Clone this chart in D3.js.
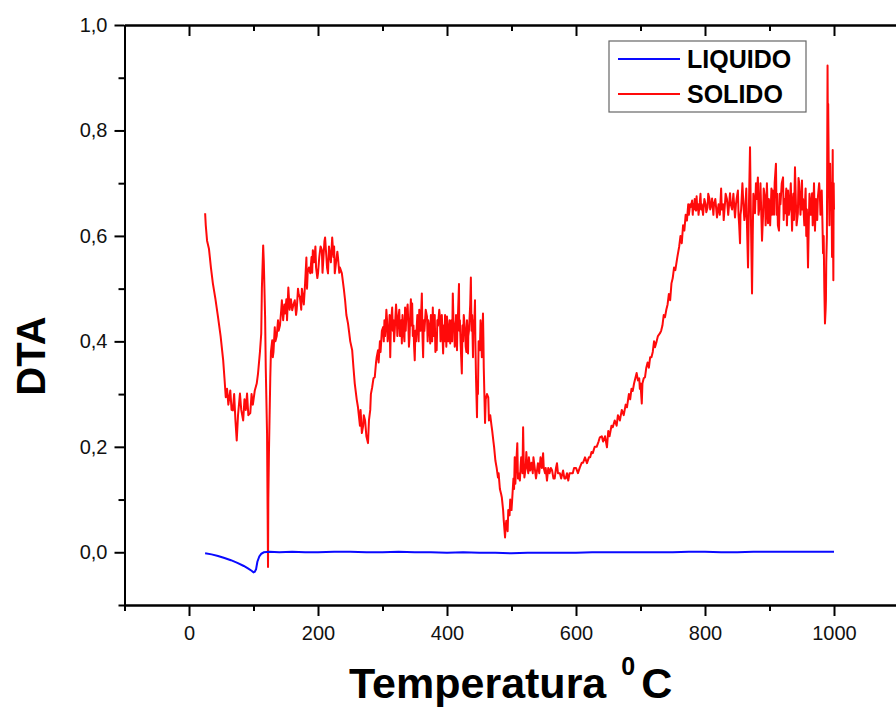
<!DOCTYPE html>
<html>
<head>
<meta charset="utf-8">
<script src="https://cdn.jsdelivr.net/npm/d3@7/dist/d3.min.js"></script>
<style>
  html, body { margin: 0; padding: 0; background: #fff; }
  svg { display: block; }
  text { font-family: Arial, "Liberation Sans", sans-serif; }
</style>
</head>
<body>
<svg id="chart" width="896" height="709"></svg>
<script>
// DTA of the solid sample: [temperature °C, DTA]
const solido = [
  [25,0.643],[26,0.62],[28,0.591],[31,0.575],[34,0.54],[37,0.510],[41,0.48],[45,0.446],[49,0.41],[53,0.364],[55,0.33],[57,0.294],[59,0.31],[61,0.28],[64,0.307],[66,0.27],[68,0.269],[70,0.30],[72,0.25],[74,0.212],[76,0.26],[79,0.301],[81,0.27],[84,0.250],[86,0.29],[88,0.27],[90,0.301],[92,0.26],[95,0.264],[97,0.30],[99,0.28],[102,0.307],[105,0.32],[107,0.339],[110,0.38],[112,0.415],[113,0.50],[115,0.582],[116,0.55],[118,0.446],[119,0.35],[121,0.226],[122.5,-0.028],[123,0.10],[124,0.193],
  [126,0.33],[127,0.38],[129,0.402],[130,0.37],[131,0.38],[133,0.427],[134,0.40],[136,0.41],[138,0.440],[139,0.42],[141,0.43],[143,0.46],[144,0.478],[146,0.44],[148,0.47],[149,0.453],[151,0.48],[152,0.44],[154,0.502],[156,0.46],[158,0.48],[160,0.459],[162,0.47],[164,0.478],[166,0.45],[167,0.46],[169,0.50],[170,0.49],[172,0.483],[174,0.46],[175,0.50],[178,0.47],[180,0.510],[182,0.559],[183,0.50],[184,0.53],[186,0.54],[188,0.529],[190,0.56],[191,0.53],[192,0.573],[194,0.55],[196,0.58],[197,0.54],[199,0.52],[200,0.529],[202,0.56],[204,0.58],[206,0.573],[207,0.53],[208,0.55],[210,0.59],[211,0.597],[213,0.56],[214,0.54],[215.5,0.529],[217,0.58],[218,0.57],[220,0.55],[222,0.597],[224,0.56],[225,0.58],[226,0.529],[228,0.55],[230,0.57],[231,0.559],[233,0.53],[234,0.54],[237,0.529],[240,0.50],[242,0.478],[244,0.45],[246.5,0.434],[248,0.42],[250,0.40],[253,0.383],[255,0.35],[257,0.320],[260,0.29],[262,0.275],[265,0.24],[266,0.27],[268,0.226],[270,0.24],[271,0.26],[273,0.250],[275,0.22],[277.5,0.207],[279,0.25],[281,0.27],[282,0.30],[284,0.313],[286,0.33],[288,0.332],[290,0.36],[291,0.37],[293,0.383],[294,0.36],[296,0.40],[297,0.38],
  [299,0.42],[301,0.427],[302,0.40],[303,0.44],[304,0.41],[305,0.43],[306,0.46],[307,0.441],[308,0.40],[310,0.42],[311,0.45],[312,0.370],[313,0.43],[315,0.464],[316,0.42],[317,0.44],[318,0.40],[319,0.421],[321,0.47],[322,0.45],[323,0.41],[324,0.434],[326,0.46],[327,0.41],[329,0.44],[330,0.396],[331,0.45],[332,0.43],[334,0.40],[335,0.464],[336,0.42],[337,0.45],[339,0.47],[340,0.434],[341,0.39],[342,0.41],[343,0.45],[344,0.48],[345,0.43],[346,0.472],[347,0.41],[348,0.43],[349,0.39],[350,0.364],[351,0.42],[352,0.40],[354,0.45],[355,0.434],[356,0.40],[357,0.46],[359,0.42],[361,0.491],[362,0.41],[363,0.370],[364,0.44],[365,0.42],[367,0.46],[369,0.447],[370,0.40],[371,0.44],[373,0.42],[374,0.396],[375,0.45],[376,0.43],[377,0.40],[378,0.464],[379,0.41],[380,0.42],[381,0.45],[382,0.38],[383,0.41],[384,0.383],[385,0.44],[386,0.43],[388,0.46],[389,0.447],[390,0.40],[391,0.42],[392,0.45],[394,0.377],[395,0.43],[396,0.40],[397,0.45],[398,0.43],[399,0.39],[400,0.447],[401,0.42],[402,0.40],[404,0.44],[405,0.396],[406,0.43],[407,0.44],[408,0.40],[409,0.491],[410,0.44],[411,0.43],[412,0.39],[413,0.40],[414,0.45],[415.5,0.383],[416,0.42],[417,0.45],[418.6,0.509],[419,0.42],[420,0.44],[421,0.40],[423,0.339],[424,0.43],[425,0.40],[426,0.45],[428,0.421],[429,0.39],[430,0.38],[431,0.44],[432.6,0.377],[433,0.41],[434,0.42],[436,0.47],[437,0.521],[438,0.42],[439,0.45],[440.3,0.370],[441,0.44],[442,0.42],[443.4,0.478],[444,0.40],[445,0.33],[446.5,0.256],[447,0.31],[448,0.30],[449,0.40],[451,0.383],[452,0.44],[453,0.42],[454,0.37],[455.8,0.453],[456.5,0.40],[457,0.35],
  [459,0.245],[460,0.29],[462,0.30],[464,0.294],[465,0.25],[467,0.26],[469,0.24],[470,0.231],[472,0.21],[473,0.20],[475,0.174],[477,0.16],[479,0.142],[480,0.15],[482,0.12],[484,0.11],[485,0.104],[487,0.08],[488,0.06],[490,0.028],[491,0.05],[492,0.06],[494,0.04],[495,0.080],[497,0.07],[498,0.10],[500,0.08],[501,0.099],[503,0.14],[504,0.12],[505,0.180],[506,0.13],[507,0.16],[509,0.207],[510,0.14],[511,0.15],[513,0.136],[514,0.16],[515,0.18],[517,0.15],[518,0.237],[519,0.17],[520,0.142],[522,0.16],[523,0.19],[524,0.169],[526,0.15],[527,0.18],[529,0.155],[531,0.17],[533,0.150],[534,0.18],[536,0.16],[538,0.14],[541,0.169],[543,0.15],[545,0.18],[547,0.16],[549,0.188],[550,0.16],[552,0.15],[553,0.16],[555,0.136],[557,0.16],[559,0.15],[561,0.16],[563,0.155],[565,0.14],[567,0.14],[569,0.16],[570.5,0.169],[572,0.15],[575,0.15],[577,0.14],[580,0.155],[582,0.14],[584,0.14],[586,0.15],[588,0.136],[590,0.15],[592,0.15],[595,0.150],[597,0.16],[600,0.16],[603,0.15],[606,0.161],[609,0.17],[611,0.17],[614,0.18],[617,0.169],[620,0.18],[622,0.18],[624,0.19],[626,0.188],[629,0.20],[632,0.20],[635,0.21],[637,0.218],[640,0.22],[642,0.21],[645,0.22],[648,0.199],[650,0.23],[652,0.22],[655,0.24],[657,0.237],[660,0.25],[663,0.24],[665,0.26],[668,0.250],[671,0.27],[674,0.26],[677,0.28],[679,0.275],[682,0.30],[684,0.29],[686,0.31],[688,0.306],[690,0.32],[692,0.33],[694,0.34],[696,0.326],[698,0.33],[699,0.31],[700,0.32],[702,0.282],[703,0.32],[705,0.33],[707,0.332],[709,0.35],[711,0.36],[713,0.35],[715,0.370],[717,0.37],[719,0.38],[721,0.40],[722.5,0.389],[725,0.40],[727,0.41],[730,0.415],[732,0.42],[734,0.43],[736,0.45],[738,0.446],[740,0.46],[742,0.47],[744,0.49],[746,0.478],[748,0.51],[750,0.52],[752,0.54],[754,0.535],[757,0.559],[760,0.58],[762,0.60],[764,0.586],[766,0.62],[768,0.61],[770,0.64],[772,0.629],[774,0.66],[775,0.64],[777,0.66],[778,0.655],
  [780,0.667],[781,0.64],[782,0.66],[783,0.65],[784,0.67],[786,0.648],[787,0.675],[788,0.65],[789,0.66],[790,0.64],[792,0.664],[793,0.68],[794,0.65],[795,0.66],[797,0.64],[798,0.654],[799,0.67],[801,0.66],[802,0.645],[804,0.654],[805,0.68],[807,0.67],[808,0.65],[810,0.66],[811,0.671],[813,0.64],[814,0.66],[816,0.67],[818.6,0.635],[820,0.65],[821,0.66],[823,0.64],[825,0.690],[826,0.65],[828,0.66],[829,0.63],[831,0.662],[832,0.68],[834,0.67],[836,0.64],[838.8,0.681],[840,0.66],[842,0.65],[844,0.68],[846.5,0.635],[848,0.66],[849,0.67],[851,0.686],[852,0.64],[853,0.62],[854.3,0.586],[855,0.64],[856,0.65],[858,0.70],[859,0.673],[861,0.63],[862,0.64],[864,0.69],[865,0.624],[866.7,0.540],[868,0.65],[869.8,0.768],[871,0.65],[872.9,0.491],[874,0.60],[875,0.68],[877.5,0.643],[879,0.70],[880,0.67],[882,0.711],[883,0.64],[885,0.66],[886,0.70],[888.4,0.591],[890,0.64],[891,0.69],[893,0.673],[894,0.62],[895,0.65],[896,0.70],[897.7,0.624],[899,0.67],[900,0.66],[901,0.62],[903,0.69],[904,0.64],[905,0.686],[907,0.64],[908,0.70],[910,0.737],[911,0.64],[912,0.68],[913,0.62],[914.7,0.610],[916,0.68],[917,0.66],[919,0.70],[921,0.711],[922,0.63],[923,0.67],[924,0.643],[926,0.69],[927,0.62],[928.7,0.686],[930,0.64],[931,0.65],[933,0.70],[935,0.610],[936,0.66],[937,0.68],[938,0.63],[939.5,0.730],[941,0.66],[942,0.62],[944,0.643],[945,0.71],[946,0.70],[948,0.64],[950.4,0.705],[951,0.65],[952,0.67],[954,0.62],[955,0.662],[956,0.69],[957,0.60],[958,0.65],[959.7,0.540],[961,0.63],[962,0.68],[964,0.64],[966,0.681],[967,0.62],[968,0.65],[969,0.70],[970.5,0.610],[972,0.67],[973,0.66],[974,0.63],[975,0.673],[977,0.70],[978,0.68],[979,0.64],[981,0.686],[982,0.63],[983,0.567],[984,0.60],[985,0.50],[986,0.434],[987,0.46],[987.5,0.48],[988,0.55],[989,0.60],[990,0.923],[990.5,0.80],[991,0.85],[992,0.70],[993,0.62],[994,0.737],[995,0.65],[996,0.70],[997,0.560],[998,0.763],[998.5,0.60],[999,0.516],[999.5,0.70],[1000,0.65]
];

// DTA of the liquid sample: [temperature °C, DTA]
const liquido = [
  [25,-0.002],[35,-0.004],[45,-0.007],[55,-0.011],[65,-0.015],[75,-0.020],[85,-0.026],[92,-0.031],[97,-0.035],[100,-0.038],[102,-0.037],[104,-0.032],[106,-0.018],[109,-0.008],[112,-0.003],[116,0.000],[125,0.001],[140,0.000],[160,0.001],[180,0.000],[200,0.000],[225,0.001],[250,0.001],[275,0.000],[300,0.000],[325,0.001],[350,0.000],[375,0.000],[400,-0.001],[425,0.000],[450,-0.001],[475,-0.001],[500,-0.002],[525,-0.001],[550,-0.001],[575,-0.001],[600,-0.001],[625,0.000],[650,0.000],[675,0.000],[700,0.000],[725,0.000],[750,0.000],[775,0.001],[800,0.001],[825,0.000],[850,0.000],[875,0.001],[900,0.001],[925,0.001],[950,0.001],[975,0.001],[1000,0.001]
];

const seriesNames = ["LIQUIDO", "SOLIDO"];
const seriesColors = ["#0a0aff", "#ff0a0a"];

const xMajor = [0, 200, 400, 600, 800, 1000];
const xMinor = [-100, 100, 300, 500, 700, 900, 1100];
const yMajor = [0.0, 0.2, 0.4, 0.6, 0.8, 1.0];
const yMinor = [-0.1, 0.1, 0.3, 0.5, 0.7, 0.9];

const svg = d3.select("#chart");
const mLeft = 124.5, mRight = 898.5, mTop = 25, mBottom = 605;

const x = d3.scaleLinear().domain([-100, 1100]).range([mLeft, mRight]);
const y = d3.scaleLinear().domain([-0.1, 1.0]).range([mBottom, mTop]);

const fmtY = d => d3.format(".1f")(d).replace(".", ",");
const fmtX = d3.format("d");

const plot = svg.append("g");
const line = d3.line().x(d => x(d[0])).y(d => y(d[1]));

plot.append("path").datum(solido)
  .attr("d", line).attr("fill", "none")
  .attr("stroke", seriesColors[1]).attr("stroke-width", 2)
  .attr("stroke-linejoin", "round");

plot.append("path").datum(liquido)
  .attr("d", line).attr("fill", "none")
  .attr("stroke", seriesColors[0]).attr("stroke-width", 2);

// frame: labelled bottom and left axes, tick-only top axis, plain right edge
function styleAxis(g) {
  g.selectAll(".domain").attr("stroke", "#000").attr("stroke-width", 2);
  g.selectAll(".tick line").attr("stroke", "#000").attr("stroke-width", 2);
  g.selectAll(".tick text").attr("font-size", 20).attr("fill", "#111");
}

svg.append("g").attr("transform", `translate(0,${mBottom})`)
  .call(d3.axisBottom(x).tickValues(xMajor).tickSize(11).tickPadding(10).tickFormat(fmtX).tickSizeOuter(0))
  .call(styleAxis);
svg.append("g").attr("transform", `translate(0,${mBottom})`)
  .call(d3.axisBottom(x).tickValues(xMinor).tickSize(6).tickFormat("").tickSizeOuter(0))
  .call(styleAxis);

svg.append("g").attr("transform", `translate(0,${mTop})`)
  .call(d3.axisBottom(x).tickValues(xMajor).tickSize(11).tickFormat("").tickSizeOuter(0))
  .call(styleAxis);
svg.append("g").attr("transform", `translate(0,${mTop})`)
  .call(d3.axisBottom(x).tickValues(xMinor).tickSize(6).tickFormat("").tickSizeOuter(0))
  .call(styleAxis);

svg.append("g").attr("transform", `translate(${mLeft},0)`)
  .call(d3.axisLeft(y).tickValues(yMajor).tickSize(10).tickPadding(7).tickFormat(fmtY).tickSizeOuter(0))
  .call(styleAxis);
svg.append("g").attr("transform", `translate(${mLeft},0)`)
  .call(d3.axisLeft(y).tickValues(yMinor).tickSize(6).tickFormat("").tickSizeOuter(0))
  .call(styleAxis);

svg.append("line")
  .attr("x1", mRight).attr("x2", mRight).attr("y1", mTop).attr("y2", mBottom)
  .attr("stroke", "#000").attr("stroke-width", 2);

// axis titles
const xt = svg.append("text")
  .attr("x", 349).attr("y", 698)
  .attr("font-size", 43).attr("font-weight", "bold").attr("fill", "#000");
xt.append("tspan").text("Temperatura ");
xt.append("tspan").attr("font-size", 25).attr("dx", 3).attr("dy", -23).text("0");
xt.append("tspan").attr("dx", 6).attr("dy", 23).text("C");

svg.append("text")
  .attr("transform", "translate(45,356) rotate(-90)")
  .attr("text-anchor", "middle")
  .attr("font-size", 40).attr("font-weight", "bold").attr("fill", "#000")
  .text("DTA");

// legend
const lg = svg.append("g").attr("transform", "translate(609,41)");
lg.append("rect").attr("width", 197).attr("height", 71)
  .attr("fill", "#fff").attr("stroke", "#666").attr("stroke-width", 1.2);
seriesNames.forEach((name, i) => {
  const yy = 18 + i * 35;
  lg.append("line").attr("x1", 9).attr("x2", 71).attr("y1", yy).attr("y2", yy)
    .attr("stroke", seriesColors[i]).attr("stroke-width", 2);
  lg.append("text").attr("x", 78).attr("y", yy).attr("dy", "0.36em")
    .attr("font-size", 25).attr("font-weight", "bold").attr("fill", "#000")
    .text(name);
});
</script>
</body>
</html>
